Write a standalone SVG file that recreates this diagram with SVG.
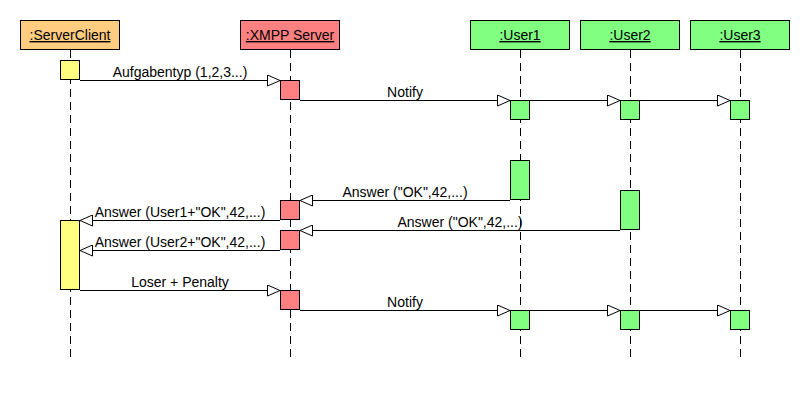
<svg xmlns="http://www.w3.org/2000/svg" width="810" height="400" viewBox="0 0 810 400">
<style>
.hdr{stroke:#000;stroke-width:1}
.life{stroke:#000;stroke-width:1;stroke-dasharray:8,5;fill:none}
.act{stroke:#000;stroke-width:1}
.msg{stroke:#000;stroke-width:1;fill:none;marker-end:url(#arr)}
text{font-family:"Liberation Sans",Arial,sans-serif;font-size:14px;fill:#000}
.ht{text-anchor:middle;text-decoration:underline}
.lbl{text-anchor:middle}
.y{fill:#FFFF80}.o{fill:#FFCC80}.r{fill:#FF8080}.g{fill:#80FF80}
</style>
<defs>
<marker id="arr" viewBox="0 0 14 12" refX="13" refY="6" markerWidth="14" markerHeight="12" markerUnits="userSpaceOnUse" orient="auto">
<path d="M0.5,0.5 L13,6 L0.5,11.5 Z" fill="#fff" stroke="#000" stroke-width="1"/>
</marker>
</defs>
<rect width="810" height="400" fill="#fff"/>
<g id="serverclient">
<rect class="hdr o" x="20.5" y="20.5" width="99" height="29"/>
<text class="ht" x="70" y="40">:ServerClient</text>
<line class="life" x1="70.5" y1="50" x2="70.5" y2="358"/>
<rect class="act y" x="60.5" y="60.5" width="19" height="19"/>
<rect class="act y" x="60.5" y="220.5" width="19" height="69"/>
</g>
<g id="xmppserver">
<rect class="hdr r" x="240.5" y="20.5" width="99" height="29"/>
<text class="ht" x="290" y="40">:XMPP Server</text>
<line class="life" x1="290.5" y1="50" x2="290.5" y2="358"/>
<rect class="act r" x="280.5" y="80.5" width="19" height="19"/>
<rect class="act r" x="280.5" y="200.5" width="19" height="19"/>
<rect class="act r" x="280.5" y="230.5" width="19" height="19"/>
<rect class="act r" x="280.5" y="290.5" width="19" height="19"/>
</g>
<g id="user1">
<rect class="hdr g" x="470.5" y="20.5" width="99" height="29"/>
<text class="ht" x="520" y="40">:User1</text>
<line class="life" x1="520.5" y1="50" x2="520.5" y2="360"/>
<rect class="act g" x="510.5" y="100.5" width="19" height="19"/>
<rect class="act g" x="510.5" y="160.5" width="19" height="39"/>
<rect class="act g" x="510.5" y="310.5" width="19" height="19"/>
</g>
<g id="user2">
<rect class="hdr g" x="580.5" y="20.5" width="99" height="29"/>
<text class="ht" x="630" y="40">:User2</text>
<line class="life" x1="630.5" y1="50" x2="630.5" y2="360"/>
<rect class="act g" x="620.5" y="100.5" width="19" height="19"/>
<rect class="act g" x="620.5" y="190.5" width="19" height="39"/>
<rect class="act g" x="620.5" y="310.5" width="19" height="19"/>
</g>
<g id="user3">
<rect class="hdr g" x="690.5" y="20.5" width="99" height="29"/>
<text class="ht" x="740" y="40">:User3</text>
<line class="life" x1="740.5" y1="50" x2="740.5" y2="360"/>
<rect class="act g" x="730.5" y="100.5" width="19" height="19"/>
<rect class="act g" x="730.5" y="310.5" width="19" height="19"/>
</g>
<g id="connectors">
<line class="msg" x1="80" y1="80.5" x2="280" y2="80.5"/>
<text class="lbl" x="180" y="77">Aufgabentyp (1,2,3...)</text>
<line class="msg" x1="300" y1="100.5" x2="510" y2="100.5"/>
<text class="lbl" x="405" y="97">Notify</text>
<line class="msg" x1="530" y1="100.5" x2="620" y2="100.5"/>
<line class="msg" x1="640" y1="100.5" x2="730" y2="100.5"/>
<line class="msg" x1="510" y1="200.5" x2="300" y2="200.5"/>
<text class="lbl" x="405" y="197">Answer ("OK",42,...)</text>
<line class="msg" x1="620" y1="230.5" x2="300" y2="230.5"/>
<text class="lbl" x="460" y="227">Answer ("OK",42,...)</text>
<line class="msg" x1="280" y1="220.5" x2="80" y2="220.5"/>
<text class="lbl" x="180" y="217">Answer (User1+"OK",42,...)</text>
<line class="msg" x1="280" y1="250.5" x2="80" y2="250.5"/>
<text class="lbl" x="180" y="247">Answer (User2+"OK",42,...)</text>
<line class="msg" x1="80" y1="290.5" x2="280" y2="290.5"/>
<text class="lbl" x="180" y="287">Loser + Penalty</text>
<line class="msg" x1="300" y1="310.5" x2="510" y2="310.5"/>
<text class="lbl" x="405" y="307">Notify</text>
<line class="msg" x1="530" y1="310.5" x2="620" y2="310.5"/>
<line class="msg" x1="640" y1="310.5" x2="730" y2="310.5"/>
</g>
</svg>
